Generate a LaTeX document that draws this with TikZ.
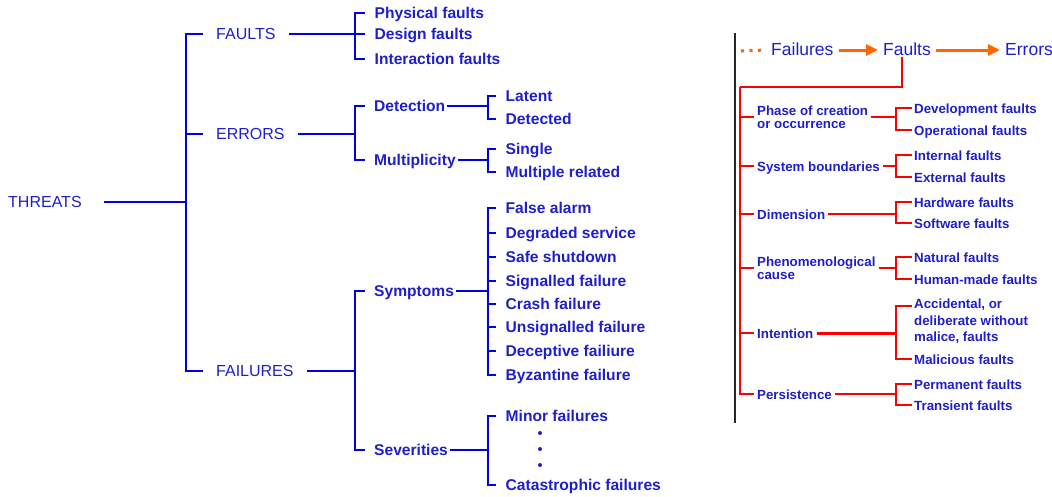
\documentclass[tikz,border=0pt]{standalone}
\usepackage{fontspec}
\setmainfont{Liberation Sans}
\usepackage{xcolor}
\usepackage{tikz}
\usetikzlibrary{arrows.meta}

\definecolor{tblue}{RGB}{30,30,205}
\definecolor{lblue}{RGB}{0,0,225}
\definecolor{tred}{RGB}{250,0,0}
\definecolor{torange}{RGB}{255,102,0}

\begin{document}
\begin{tikzpicture}[x=1pt, y=-1pt,
  every node/.style={text=tblue, inner ysep=0pt, text height=1.2em, text depth=0.14em},
  multi/.style={text height={}, text depth={}, align=left},
  top/.style={anchor=west, inner xsep=13pt, font=\fontsize{16}{16}\selectfont},
  mid/.style={anchor=west, inner xsep=2pt, font=\bfseries\fontsize{15.6}{16}\selectfont},
  leaf/.style={anchor=west, inner xsep=9.5pt, font=\bfseries\fontsize{15.6}{16}\selectfont},
  bline/.style={draw=lblue, line width=2.4pt},
  thin/.style={draw=lblue, line width=1.5pt},
  head/.style={anchor=west, inner xsep=5pt, font=\fontsize{17.5}{18}\selectfont},
  cat/.style={anchor=west, inner xsep=3pt, font=\bfseries\fontsize{13.3}{13}\selectfont},
  sub/.style={anchor=west, inner xsep=2pt, font=\bfseries\fontsize{13.3}{13}\selectfont},
  rline/.style={draw=tred, line width=2pt},
  oarrow/.style={draw=torange, line width=3pt, -{Triangle[length=12pt,width=11pt]}}]
  \path[use as bounding box, clip] (0,0) rectangle (1052,496);

  % threats tree
  \node[anchor=west, inner xsep=0pt, font=\fontsize{16}{16}\selectfont] (threats) at (8,202) {THREATS};
  \coordinate (tb) at (186,202);
  \draw[thin, shorten <=22pt] (threats.east) -- (tb);
  \node[top] (faults) at (203,34) {FAULTS};
  \node[top] (errors) at (203,134) {ERRORS};
  \node[top] (failures) at (203,371) {FAILURES};
  \foreach \n in {faults,errors,failures}
    \draw[bline] (tb) |- (\n.west);

  % faults
  \coordinate (fb) at (355,34);
  \draw[bline] (faults.east) -- (fb);
  \foreach \t/\y [count=\i] in {Physical faults/13, Design faults/34, Interaction faults/59} {
    \node[leaf] (f\i) at (365,\y) {\t};
    \draw[bline] (fb) |- (f\i.west);
  }

  % errors
  \coordinate (eb) at (355,134);
  \draw[bline] (errors.east) -- (eb);
  \node[mid] (detect) at (372,106) {Detection};
  \node[mid] (multi) at (372,160) {Multiplicity};
  \draw[thin, shorten >=7pt] (eb) |- (detect.west);
  \draw[thin, shorten >=7pt] (eb) |- (multi.west);
  \coordinate (db) at (488,106);
  \draw[bline] (detect.east) -- (db);
  \foreach \t/\y [count=\i] in {Latent/96, Detected/119} {
    \node[leaf] (d\i) at (496,\y) {\t};
    \draw[bline] (db) |- (d\i.west);
  }
  \coordinate (mb) at (488,160);
  \draw[bline] (multi.east) -- (mb);
  \foreach \t/\y [count=\i] in {Single/149, Multiple related/172} {
    \node[leaf] (m\i) at (496,\y) {\t};
    \draw[thin] (mb) |- (m\i.west);
  }

  % failures
  \coordinate (xb) at (355,371);
  \draw[bline] (failures.east) -- (xb);
  \node[mid] (symp) at (372,291) {Symptoms};
  \node[mid] (sever) at (372,450) {Severities};
  \draw[bline, shorten >=7pt] (xb) |- (symp.west);
  \draw[bline, shorten >=7pt] (xb) |- (sever.west);
  \coordinate (sb) at (488,291);
  \draw[bline] (symp.east) -- (sb);
  \foreach \t/\y [count=\i] in {False alarm/208, Degraded service/233, Safe shutdown/257,
      Signalled failure/281, Crash failure/304, Unsignalled failure/327,
      Deceptive failiure/351, Byzantine failure/375} {
    \node[leaf] (s\i) at (496,\y) {\t};
    \draw[thin] (sb) |- (s\i.west);
  }
  \coordinate (vb) at (488,450);
  \draw[bline] (sever.east) -- (vb);
  \foreach \t/\y [count=\i] in {Minor failures/416, Catastrophic failures/485} {
    \node[leaf] (v\i) at (496,\y) {\t};
    \draw[thin] (vb) |- (v\i.west);
  }
  \foreach \y in {433,449,465}
    \fill[tblue] (540,\y) circle (2pt);

  % fault classes
  \coordinate (bt) at (735,33);
  \coordinate (bb) at (735,423);
  \draw[black!85, line width=2pt] (bt) -- (bb);
  \coordinate (pre) at (741,51);
  \node[head] (hfail) at (766,50) {Failures};
  \node[head] (hfault) at (878,50) {Faults};
  \node[head] (herr) at (1000,50) {Errors};
  \draw[torange, line width=3pt, dash pattern=on 3pt off 5.5pt, shorten >=4pt] (pre) -- (hfail.west);
  \draw[oarrow] (hfail.east) -- (hfault.west);
  \draw[oarrow] (hfault.east) -- (herr.west);

  \coordinate (rt) at (740,87);
  \draw[rline] ([xshift=-5pt]hfault.south) |- (rt);
  \node[cat, multi] (phase) at (754,117) {Phase of creation\\or occurrence};
  \node[cat] (sysb) at (754,166) {System boundaries};
  \node[cat] (dim) at (754,214) {Dimension};
  \node[cat, multi] (phen) at (754,268) {Phenomenological\\cause};
  \node[cat] (intent) at (754,333) {Intention};
  \node[cat] (persist) at (754,394) {Persistence};
  \foreach \n in {phase,sysb,dim,phen,intent,persist}
    \draw[rline] (rt) |- (\n.west);

  \foreach \n/\y/\ta/\ya/\tb/\yb in {phase/117/Development faults/108/Operational faults/130,
      sysb/166/Internal faults/155/External faults/177,
      dim/214/Hardware faults/202/Software faults/223,
      phen/268/Natural faults/257/Human-made faults/279,
      persist/394/Permanent faults/384/Transient faults/405} {
    \coordinate (\n-b) at (896,\y);
    \draw[rline] (\n.east) -- (\n-b);
    \node[sub] (\n-1) at (912,\ya) {\ta};
    \node[sub] (\n-2) at (912,\yb) {\tb};
    \draw[rline] (\n-b) |- (\n-1.west);
    \draw[rline] (\n-b) |- (\n-2.west);
  }

  \coordinate (intent-b) at (896,333);
  \draw[rline, line width=3pt] (intent.east) -- (intent-b);
  \node[sub, multi, font=\bfseries\fontsize{13.3}{16.5}\selectfont] (acc) at (912,321.5)
    {Accidental, or\\deliberate without\\malice, faults};
  \node[sub] (mal) at (912,359) {Malicious faults};
  \draw[rline] (intent-b) |- ([yshift=16pt]acc.west);
  \draw[rline] (intent-b) |- (mal.west);
\end{tikzpicture}
\end{document}
